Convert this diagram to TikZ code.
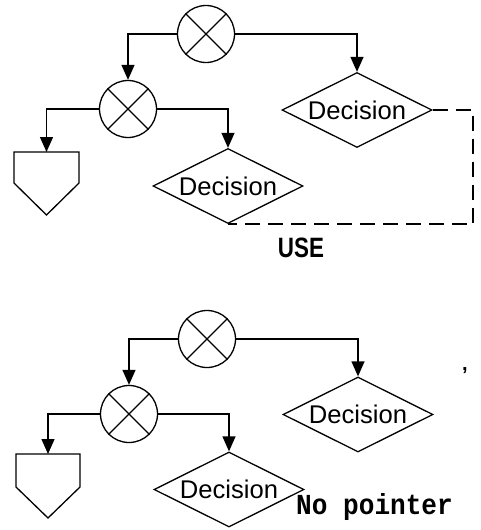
\documentclass[tikz,border=0pt]{standalone}
\usepackage{fontspec}
\setmainfont{Liberation Sans}
\newfontfamily\monofont{Liberation Mono}
\usetikzlibrary{shapes.geometric,arrows.meta,calc}
\tikzset{
  ln/.style={line width=1.3pt},
  arr/.style={ln,-{Triangle[length=15pt,width=13pt]}},
  xcirc/.style={circle,draw,ln,minimum size=57pt,inner sep=0pt},
  dec/.style={diamond,draw,ln,aspect=2,minimum width=150pt,minimum height=75pt,inner sep=0pt,
    font=\fontsize{25.6pt}{28pt}\selectfont},
  dsh/.style={line width=1.9pt,dash pattern=on 15pt off 8pt},
}
\begin{document}
\begin{tikzpicture}[x=1pt,y=-1pt]
\useasboundingbox (0,0) rectangle (480,530);
% ---------- top diagram ----------
\node[xcirc] (c1) at (206,34) {};
\node[xcirc] (c2) at (128,109) {};
\node[dec] (d1) at (357,110) {Decision};
\node[dec] (d2) at (228,186) {Decision};
\coordinate (p1) at (46.5,152);
\foreach \c in {c1,c2}{\draw[ln] (\c.45) -- (\c.225) (\c.135) -- (\c.315);}
\draw[arr] (c1.west) -| (c2.north);
\draw[arr] (c1.east) -| (d1.north);
\draw[arr] (c2.west) -| (p1);
\draw[arr] (c2.east) -| (d2.north);
\draw[ln] (p1) ++(-32.5,0) -- ++(0,31) -- ($(p1)+(0,63)$) -- ($(p1)+(32.5,31)$) -- ($(p1)+(32.5,0)$) -- cycle;
\coordinate (k1) at (473,110);
\draw[dsh] (d1.east) -- (k1) |- (d2.south);
\node[font=\fontsize{28pt}{30pt}\selectfont\bfseries] (use) at (301,248) {\scalebox{0.8}[1]{USE}};
% ---------- bottom diagram ----------
\node[xcirc] (c3) at (207,339) {};
\node[xcirc] (c4) at (129,414) {};
\node[dec] (d3) at (358,414.5) {Decision};
\node[dec] (d4) at (229,489.5) {Decision};
\coordinate (p2) at (48,454);
\foreach \c in {c3,c4}{\draw[ln] (\c.45) -- (\c.225) (\c.135) -- (\c.315);}
\draw[arr] (c3.west) -| (c4.north);
\draw[arr] (c3.east) -| (d3.north);
\draw[arr] (c4.west) -| (p2);
\draw[arr] (c4.east) -| (d4.north);
\draw[ln] (p2) ++(-32,0) -- ++(0,33) -- ($(p2)+(0,64)$) -- ($(p2)+(32,33)$) -- ($(p2)+(32,0)$) -- cycle;
\node[anchor=west,inner sep=0pt,font=\monofont\bfseries\fontsize{29pt}{30pt}\selectfont] (np) at (296,507) {\scalebox{0.9}[1]{No pointer}};
\node[anchor=base,inner sep=0pt,font=\fontsize{20pt}{22pt}\selectfont\bfseries] (cm) at (465,370) {,};
\end{tikzpicture}
\end{document}
